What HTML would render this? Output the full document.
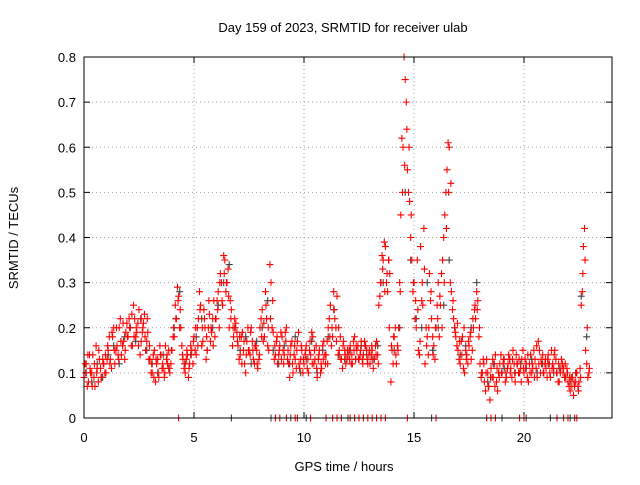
<!DOCTYPE html>
<html><head><meta charset="utf-8"><style>
body{margin:0;background:#fff;}
svg text{font-family:"Liberation Sans",sans-serif;font-size:13px;fill:#000;}
</style></head><body>
<svg id="chart" width="640" height="480">
<text x="343" y="32" text-anchor="middle">Day 159 of 2023, SRMTID for receiver ulab</text>
<text x="344" y="471" text-anchor="middle">GPS time / hours</text>
<text transform="translate(18,238) rotate(-90)" text-anchor="middle">SRMTID / TECUs</text>
<g id="grid"></g>
<g id="axes"></g>
<g id="gray"></g>
<g id="red"></g>
<rect x="84" y="57" width="528" height="361" fill="none" stroke="#000"/>
</svg>
<script>
const xTicks=[0,5,10,15,20];
const yTicks=[0,0.1,0.2,0.3,0.4,0.5,0.6,0.7,0.8];
const yTickLabels=["0","0.1","0.2","0.3","0.4","0.5","0.6","0.7","0.8"];
const redA=[.09,.12,.08,.1,.14,.07,.11,.13,.09,.12,
.1,.15,.13,.18,.12,.16,.2,.14,.17,.19,
.18,.2,.16,.22,.19,.24,.17,.21,.15,.19,
.13,.1,.15,.12,.09,.14,.11,.16,.12,.1,
.15,.18,.22,.27,.2,.13,.1,.14,.12,.15,
.18,.14,.22,.25,.17,.2,.15,.23,.19,.26,
.22,.28,.32,.25,.35,.3,.2,.24,.18,.21,
.16,.14,.19,.12,.17,.15,.2,.13,.16,.11,
.2,.24,.18,.22,.15,.3,.19,.14,.12,.16,
.18,.14,.2,.12,.16,.1,.13,.17,.11,.15,
.12,.16,.1,.14,.18,.13,.09,.15,.11,.17,
.14,.2,.25,.18,.22,.27,.15,.13,.17,.12,
.14,.16,.12,.18,.15,.13,.17,.14,.16,.12,
.12,.15,.13,.17,.25,.3,.35,.38,.28,.32,
.15,.18,.12,.2,.45,.6,.75,.55,.48,.35,
.3,.2,.15,.38,.25,.12,.18,.32,.22,.16,
.2,.3,.25,.35,.45,.55,.6,.28,.22,.18,
.15,.12,.18,.1,.14,.16,.13,.2,.22,.26,
.12,.1,.08,.13,.07,.11,.09,.14,.06,.12,
.1,.13,.09,.14,.11,.15,.08,.12,.1,.13,
.1,.12,.08,.14,.11,.13,.09,.15,.12,.1,
.11,.14,.09,.12,.15,.1,.08,.13,.11,.09,
.08,.06,.09,.07,.1,.08,.25,.38,.15,.09];
const redB=[.12,.07,.14,.1,.09,.16,.08,.11,.13,.1,
.13,.18,.11,.2,.15,.14,.22,.16,.13,.21,
.22,.16,.25,.18,.21,.14,.19,.23,.17,.13,
.1,.14,.08,.13,.16,.11,.09,.13,.15,.12,
.18,.25,.29,.2,.16,.11,.13,.09,.16,.12,
.15,.2,.28,.16,.24,.13,.2,.17,.22,.18,
.26,.2,.3,.36,.28,.33,.26,.16,.22,.19,
.13,.18,.15,.1,.2,.14,.17,.12,.15,.13,
.22,.17,.28,.16,.34,.2,.13,.17,.14,.19,
.15,.19,.13,.09,.17,.14,.11,.19,.13,.1,
.14,.11,.15,.19,.12,.16,.13,.1,.16,.14,
.17,.22,.16,.28,.2,.14,.18,.11,.15,.13,
.15,.12,.17,.13,.16,.14,.13,.17,.15,.14,
.14,.11,.16,.14,.27,.36,.39,.3,.35,.08,
.12,.2,.16,.3,.62,.8,.7,.5,.4,.28,
.22,.35,.14,.26,.42,.2,.14,.26,.18,.13,
.25,.18,.32,.4,.5,.61,.3,.24,.2,.16,
.13,.17,.11,.15,.12,.18,.15,.24,.28,.18,
.09,.13,.06,.1,.04,.09,.12,.08,.1,.14,
.12,.08,.11,.13,.09,.12,.14,.1,.11,.15,
.13,.09,.12,.1,.15,.11,.17,.1,.14,.12,
.09,.12,.15,.11,.13,.08,.1,.12,.09,.11,
.07,.09,.05,.08,.07,.11,.28,.42,.12,.1];
const redC=[.1,.14,.11,.07,.12,.1,.15,.09,.12,.14,
.16,.12,.19,.15,.2,.13,.17,.21,.15,.18,
.2,.23,.18,.2,.16,.22,.2,.18,.22,.16,
.12,.09,.13,.1,.14,.12,.1,.14,.11,.15,
.2,.22,.26,.24,.14,.12,.15,.11,.14,.17,
.2,.16,.24,.2,.22,.18,.26,.2,.16,.22,
.24,.3,.26,.32,.3,.27,.22,.2,.2,.17,
.18,.12,.17,.14,.15,.19,.15,.16,.12,.14,
.18,.21,.25,.2,.22,.26,.16,.18,.15,.13,
.12,.17,.15,.14,.12,.16,.15,.12,.16,.13,
.15,.13,.17,.12,.15,.11,.14,.12,.13,.12,
.12,.18,.2,.24,.17,.2,.13,.16,.14,.15,
.13,.14,.15,.16,.13,.15,.12,.16,.13,.15,
.16,.13,.14,.12,.3,.33,.28,.32,.2,.16,
.18,.14,.15,.28,.5,.56,.64,.6,.45,.3,
.26,.24,.17,.3,.33,.16,.2,.28,.14,.2,
.22,.27,.2,.3,.42,.5,.52,.26,.19,.21,
.17,.14,.2,.13,.17,.19,.22,.25,.24,.2,
.1,.12,.1,.07,.09,.13,.07,.11,.09,.1,
.13,.1,.12,.1,.13,.1,.12,.13,.08,.11,
.11,.14,.1,.12,.09,.16,.12,.13,.1,.13,
.13,.1,.11,.14,.1,.12,.11,.1,.12,.1,
.09,.07,.08,.1,.06,.09,.32,.35,.2,.11];
const gray=[.1,.08,.12,.09,.14,.16,.12,.18,.2,.17,.22,.15,.12,.1,.14,.11,
.2,.28,.12,.14,.18,.22,.15,.2,.25,.3,.34,.2,.15,.18,.12,.17,
.2,.26,.15,.12,.16,.12,.18,.1,.13,.17,.1,.15,.18,.24,.14,.13,
.15,.13,.16,.14,.13,.16,.3,.35,.15,.2,.5,.35,.22,.2,.3,.15,
.2,.25,.35,.2,.14,.16,.2,.3,.1,.08,.12,.1,.11,.13,.1,.12,
.11,.13,.1,.12,.12,.1,.11,.09,.08,.1,.27,.18];
const redZeroTimes=[4.3,8.7,8.9,9.2,9.6,9.7,10.3,11.0,11.3,11.5,11.7,12.1,12.3,12.5,12.7,12.9,13.1,13.3,13.5,13.7,14.7,16.0,18.3,18.5,18.7,19.8,20.0,21.5,21.8,22.0,22.3,22.4];
const grayZeroTimes=[6.7,8.5,9.4,10.1,12.0,15.8,19.0,20.1,21.2,22.1];
const NS="http://www.w3.org/2000/svg";
const X=t=>84+t*22, Y=v=>418-v*451.25;
function el(tag,attrs,parent){const e=document.createElementNS(NS,tag);for(const k in attrs)e.setAttribute(k,attrs[k]);parent.appendChild(e);return e;}
const grid=document.getElementById('grid'),axes=document.getElementById('axes');
yTicks.forEach((v,i)=>{
  if(v>0&&v<0.8){const g=el('line',{x1:84,x2:612,y1:Y(v),y2:Y(v),stroke:'#a0a0a0','stroke-dasharray':'1,3'},grid);
  
  }
  el('line',{x1:84,x2:90,y1:Y(v),y2:Y(v),stroke:'#000'},axes);
  el('line',{x1:606,x2:612,y1:Y(v),y2:Y(v),stroke:'#000'},axes);
  const t=el('text',{x:76,y:Y(v)+5,'text-anchor':'end'},axes);t.textContent=yTickLabels[i];
  
  
});
xTicks.forEach(v=>{
  if(v>0){const g=el('line',{x1:X(v),x2:X(v),y1:57,y2:418,stroke:'#a0a0a0','stroke-dasharray':'1,3'},grid);
  
  }
  el('line',{x1:X(v),x2:X(v),y1:412,y2:418,stroke:'#000'},axes);
  el('line',{x1:X(v),x2:X(v),y1:57,y2:63,stroke:'#000'},axes);
  const t=el('text',{x:X(v),y:442,'text-anchor':'middle'},axes);t.textContent=String(v);
  
  
});
function plus(g,t,v,c,name){
  const x=X(t),y=Y(v);
  const p=el('path',{d:`M${x-3.5},${y}h7M${x},${y-3.5}v7`,stroke:c,'stroke-width':1.1,fill:'none'},g);
  
  
}
const gG=document.getElementById('gray'),gR=document.getElementById('red');
gray.forEach((v,i)=>plus(gG,i*0.25+0.1,v,'#404040','gray-point'));
grayZeroTimes.forEach(t=>plus(gG,t,0,'#404040','gray-zero-point'));
redA.forEach((v,i)=>plus(gR,i*0.1,v,'#ff0000','red-point'));
redB.forEach((v,i)=>plus(gR,i*0.1+0.05,v,'#ff0000','red-point'));
redC.forEach((v,i)=>plus(gR,i*0.1+0.075,v,'#ff0000','red-point'));
redZeroTimes.forEach(t=>plus(gR,t,0,'#ff0000','red-zero-point'));
</script>
</body></html>
